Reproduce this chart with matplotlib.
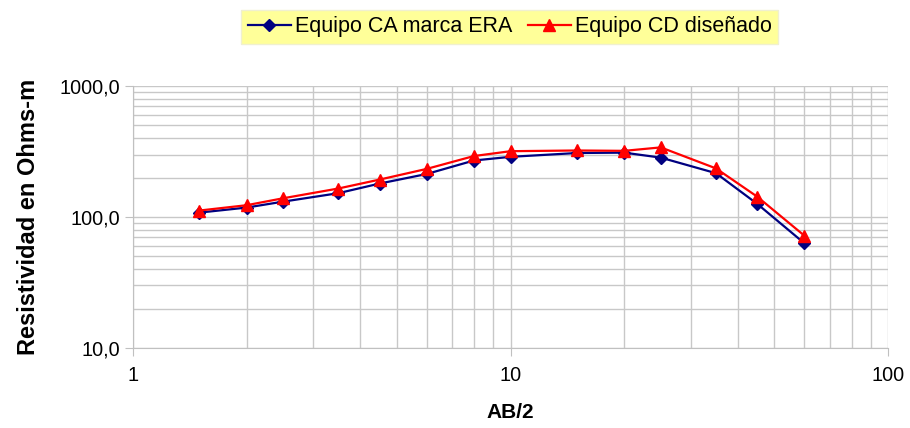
import matplotlib.pyplot as plt
import matplotlib.ticker as ticker

plt.rcParams['font.family'] = ['Liberation Sans', 'DejaVu Sans']

# AB/2 spacing
ab2 = [1.5, 2, 2.5, 3.5, 4.5, 6, 8, 10, 15, 20, 25, 35, 45, 60]
# apparent resistivity (Ohms-m)
rho_ca = [108, 118, 131, 152, 180, 213, 270, 288, 308, 310, 284, 216, 126, 63]
rho_cd = [112, 123, 139, 165, 193, 233, 292, 318, 322, 320, 340, 235, 143, 72]

fig = plt.figure(figsize=(9.1, 4.28), dpi=100)
ax = fig.add_axes([0.146, 0.187, 0.830, 0.612])

ax.plot(ab2, rho_ca, color='#000080', lw=1.6, marker='D', markersize=6,
        label='Equipo CA marca ERA', zorder=3)
ax.plot(ab2, rho_cd, color='#FF0000', lw=1.6, marker='^', markersize=9,
        label='Equipo CD diseñado', zorder=4)

ax.set_xscale('log')
ax.set_yscale('log')
ax.set_xlim(1, 100)
ax.set_ylim(10, 1000)

ax.xaxis.set_major_locator(ticker.FixedLocator([1, 10, 100]))
ax.xaxis.set_major_formatter(ticker.FuncFormatter(lambda v, p: '%d' % v))
ax.xaxis.set_minor_locator(ticker.LogLocator(base=10, subs=range(2, 10)))
ax.xaxis.set_minor_formatter(ticker.NullFormatter())
ax.yaxis.set_major_locator(ticker.FixedLocator([10, 100, 1000]))
ax.yaxis.set_major_formatter(ticker.FuncFormatter(lambda v, p: ('%.1f' % v).replace('.', ',')))
ax.yaxis.set_minor_locator(ticker.LogLocator(base=10, subs=range(2, 10)))
ax.yaxis.set_minor_formatter(ticker.NullFormatter())

ax.grid(True, which='both', color='#c8c8c8', lw=1.0)
ax.set_axisbelow(True)
for s in ['top', 'right']:
    ax.spines[s].set_visible(False)
for s in ['left', 'bottom']:
    ax.spines[s].set_color('#c0c0c0')
ax.tick_params(which='major', length=6, color='#c0c0c0', labelsize=14.3)
ax.tick_params(axis='y', pad=3)
ax.tick_params(axis='x', pad=7)
ax.tick_params(which='minor', length=0)

ax.set_xlabel('AB/2', fontsize=15, fontweight='bold', labelpad=13)
ax.set_ylabel('Resistividad en Ohms-m', fontsize=17, fontweight='bold', labelpad=14)

leg = ax.legend(loc='center', bbox_to_anchor=(0.5604, 0.937), bbox_transform=fig.transFigure,
                ncol=2, fontsize=15.5, frameon=True, fancybox=False,
                handlelength=2.0, handletextpad=0.2, columnspacing=0.7,
                borderpad=0.3)
leg.get_frame().set_facecolor('#FFFF99')
leg.get_frame().set_edgecolor('#f0f0d0')
leg.get_frame().set_alpha(1)

fig.savefig('out.png', dpi=100)
